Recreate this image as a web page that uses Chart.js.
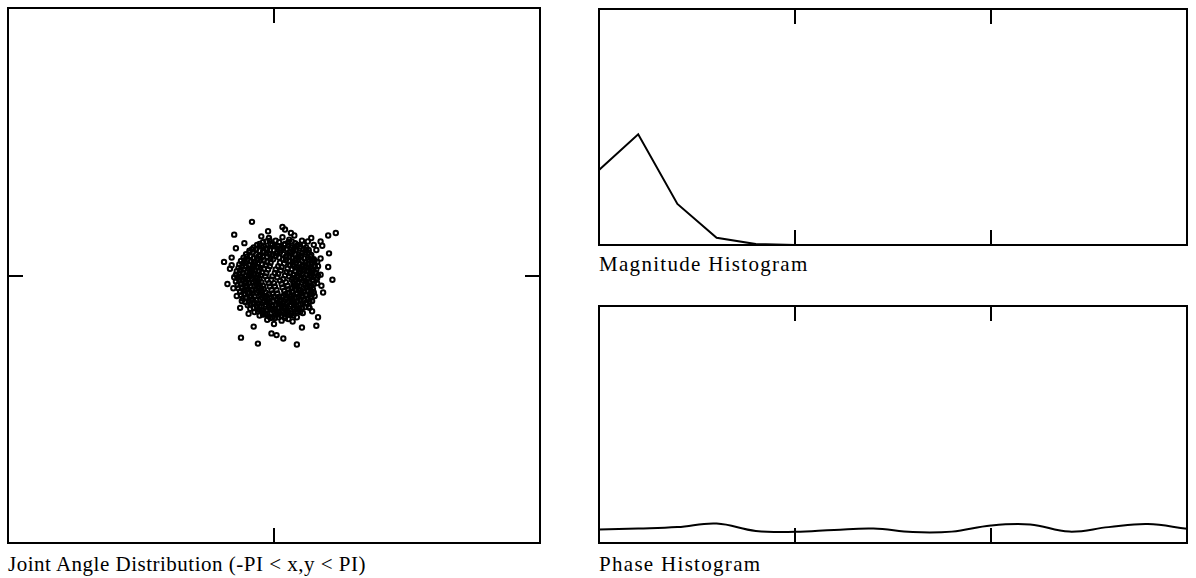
<!DOCTYPE html>
<html lang="en">
<head>
  <meta charset="UTF-8" />
  <title>Joint Angle Distribution</title>
  <script src="https://cdn.jsdelivr.net/npm/chart.js"></script>
  <style>
    body {
      margin: 0;
      background: #fff;
      width: 1196px;
      height: 578px;
      position: relative;
      overflow: hidden;
    }

    .panel {
      position: absolute;
    }

    .caption {
      position: absolute;
      font-family: 'Liberation Serif', 'Times New Roman', serif;
      font-size: 21px;
      line-height: 20px;
      letter-spacing: 1.3px;
      color: #000;
      white-space: nowrap;
    }
  </style>
</head>
<body>
  <div class="panel" style="left:6px; top:6px; width:536px; height:539px;">
    <canvas id="jointChart"></canvas>
  </div>
  <div class="caption" style="left:8px; top:554px; letter-spacing:0.5px;">Joint Angle Distribution (-PI &lt; x,y &lt; PI)</div>

  <div class="panel" style="left:597px; top:7px; width:592px; height:240px;">
    <canvas id="magnitudeChart"></canvas>
  </div>
  <div class="caption" style="left:599px; top:254px;">Magnitude Histogram</div>

  <div class="panel" style="left:597px; top:304px; width:592px; height:241px;">
    <canvas id="phaseChart"></canvas>
  </div>
  <div class="caption" style="left:599px; top:554px;">Phase Histogram</div>

  <script>
    // joint angle samples (x, y) in radians
    const jointAngles = [
      [-0.06,0.44],[0.02,0.41],[0.10,0.45],[0.18,0.42],[0.24,0.47],
      [-0.17,0.37],[-0.09,0.40],[-0.02,0.36],[0.06,0.39],[0.13,0.37],[0.21,0.40],[0.28,0.36],[0.33,0.41],
      [-0.24,0.33],[-0.15,0.35],[-0.08,0.31],[0.01,0.34],[0.08,0.32],[0.17,0.35],[0.23,0.31],[0.31,0.34],[0.38,0.33],
      [-0.29,0.29],[-0.21,0.31],[-0.12,0.27],[-0.05,0.30],[0.04,0.28],[0.11,0.32],[0.19,0.28],[0.26,0.30],[0.34,0.27],[0.41,0.30],
      [-0.33,0.25],[-0.25,0.27],[-0.18,0.23],[-0.09,0.26],[-0.02,0.24],[0.07,0.27],[0.15,0.23],[0.21,0.26],[0.29,0.24],[0.37,0.27],[0.44,0.24],
      [-0.36,0.21],[-0.28,0.23],[-0.19,0.19],[-0.13,0.22],[-0.04,0.20],[0.02,0.23],[0.11,0.19],[0.18,0.22],[0.26,0.20],[0.32,0.23],[0.40,0.21],[0.47,0.19],
      [-0.39,0.17],[-0.31,0.19],[-0.24,0.15],[-0.16,0.18],[-0.08,0.16],[-0.01,0.19],[0.07,0.15],[0.14,0.18],[0.22,0.16],[0.29,0.19],[0.37,0.15],[0.45,0.18],[0.51,0.16],
      [-0.41,0.13],[-0.34,0.15],[-0.25,0.11],[-0.19,0.14],[-0.10,0.12],[-0.04,0.15],[0.05,0.11],[0.12,0.14],[0.19,0.12],[0.26,0.15],[0.33,0.11],[0.41,0.14],[0.48,0.12],
      [-0.42,0.09],[-0.33,0.11],[-0.27,0.07],[-0.19,0.10],[-0.12,0.08],[-0.05,0.11],[0.02,0.07],[0.09,0.10],[0.16,0.08],[0.24,0.11],[0.30,0.07],[0.38,0.10],[0.44,0.08],[0.52,0.11],
      [-0.44,0.05],[-0.36,0.07],[-0.29,0.03],[-0.22,0.06],[-0.14,0.04],[-0.07,0.07],[0.01,0.03],[0.08,0.06],[0.15,0.04],[0.21,0.07],[0.29,0.03],[0.36,0.06],[0.43,0.04],[0.50,0.07],
      [-0.45,0.01],[-0.37,0.03],[-0.30,-0.01],[-0.23,0.02],[-0.16,0.00],[-0.09,0.03],[-0.02,-0.01],[0.05,0.02],[0.13,0.00],[0.19,0.03],[0.27,-0.01],[0.34,0.02],[0.42,0.00],[0.49,0.03],[0.55,0.01],
      [-0.43,-0.03],[-0.38,-0.01],[-0.31,-0.05],[-0.24,-0.02],[-0.17,-0.04],[-0.10,-0.01],[-0.03,-0.05],[0.04,-0.02],[0.11,-0.04],[0.18,-0.01],[0.25,-0.05],[0.32,-0.02],[0.40,-0.04],[0.47,-0.01],
      [-0.45,-0.07],[-0.37,-0.05],[-0.30,-0.09],[-0.22,-0.06],[-0.15,-0.08],[-0.08,-0.05],[0.00,-0.09],[0.07,-0.06],[0.14,-0.08],[0.21,-0.05],[0.28,-0.09],[0.35,-0.06],[0.42,-0.08],[0.50,-0.05],
      [-0.43,-0.11],[-0.35,-0.09],[-0.28,-0.13],[-0.21,-0.10],[-0.13,-0.12],[-0.06,-0.09],[0.01,-0.13],[0.09,-0.10],[0.16,-0.12],[0.23,-0.09],[0.30,-0.13],[0.37,-0.10],[0.44,-0.12],[0.51,-0.09],
      [-0.42,-0.15],[-0.34,-0.13],[-0.26,-0.17],[-0.19,-0.14],[-0.12,-0.16],[-0.05,-0.13],[0.03,-0.17],[0.10,-0.14],[0.17,-0.16],[0.24,-0.13],[0.31,-0.17],[0.38,-0.14],[0.46,-0.16],
      [-0.40,-0.19],[-0.33,-0.17],[-0.26,-0.21],[-0.18,-0.18],[-0.10,-0.20],[-0.03,-0.17],[0.04,-0.21],[0.12,-0.18],[0.18,-0.20],[0.26,-0.17],[0.33,-0.21],[0.40,-0.18],[0.47,-0.20],
      [-0.39,-0.23],[-0.31,-0.21],[-0.23,-0.25],[-0.16,-0.22],[-0.09,-0.24],[-0.02,-0.21],[0.06,-0.25],[0.13,-0.22],[0.20,-0.24],[0.27,-0.21],[0.34,-0.25],[0.42,-0.22],[0.48,-0.24],
      [-0.37,-0.27],[-0.29,-0.25],[-0.21,-0.29],[-0.14,-0.26],[-0.07,-0.28],[0.00,-0.25],[0.07,-0.29],[0.15,-0.26],[0.22,-0.28],[0.29,-0.25],[0.36,-0.29],[0.43,-0.26],
      [-0.34,-0.31],[-0.27,-0.29],[-0.20,-0.33],[-0.12,-0.30],[-0.05,-0.32],[0.03,-0.29],[0.10,-0.33],[0.17,-0.30],[0.24,-0.32],[0.31,-0.29],[0.38,-0.33],[0.45,-0.30],
      [-0.31,-0.35],[-0.24,-0.33],[-0.17,-0.37],[-0.10,-0.34],[-0.02,-0.36],[0.05,-0.33],[0.12,-0.37],[0.20,-0.34],[0.27,-0.36],[0.34,-0.33],[0.41,-0.37],
      [-0.28,-0.39],[-0.20,-0.37],[-0.13,-0.41],[-0.06,-0.38],[0.02,-0.40],[0.09,-0.37],[0.16,-0.41],[0.23,-0.38],[0.30,-0.40],[0.37,-0.37],
      [-0.23,-0.43],[-0.15,-0.41],[-0.08,-0.45],[0.00,-0.42],[0.07,-0.44],[0.14,-0.41],[0.21,-0.45],[0.28,-0.42],[0.34,-0.44],
      [-0.17,-0.47],[-0.10,-0.45],[-0.02,-0.49],[0.05,-0.46],[0.13,-0.48],[0.20,-0.45],[0.27,-0.49],
      [-0.08,-0.52],[0.01,-0.50],[0.09,-0.53],[0.17,-0.51],
      // second pass, densest away from the very centre
      [-0.13,0.39],[-0.05,0.41],[0.17,0.39],[0.25,0.38],
      [-0.20,0.36],[-0.12,0.34],[-0.04,0.37],[0.04,0.35],[0.12,0.36],[0.20,0.33],[0.27,0.35],[0.35,0.36],
      [-0.26,0.31],[-0.17,0.29],[-0.09,0.32],[0.00,0.30],[0.08,0.30],[0.15,0.31],[0.23,0.29],[0.30,0.32],[0.38,0.30],
      [-0.29,0.27],[-0.21,0.25],[-0.13,0.28],[-0.05,0.25],[0.03,0.26],[0.11,0.25],[0.18,0.27],[0.25,0.25],[0.33,0.26],[0.41,0.27],
      [-0.32,0.22],[-0.24,0.20],[-0.16,0.24],[-0.08,0.22],[0.06,0.21],[0.14,0.22],[0.22,0.20],[0.29,0.22],[0.36,0.20],[0.43,0.22],
      [-0.35,0.18],[-0.27,0.17],[-0.20,0.20],[-0.12,0.18],[0.18,0.17],[0.25,0.18],[0.33,0.17],[0.41,0.19],[0.48,0.17],
      [-0.37,0.14],[-0.30,0.12],[-0.22,0.16],[-0.14,0.13],[0.22,0.13],[0.30,0.14],[0.37,0.12],[0.44,0.15],
      [-0.38,0.10],[-0.30,0.08],[-0.23,0.12],[-0.16,0.09],[0.27,0.09],[0.34,0.11],[0.41,0.09],[0.48,0.10],
      [-0.40,0.06],[-0.32,0.04],[-0.25,0.08],[-0.18,0.05],[0.25,0.05],[0.32,0.08],[0.39,0.05],[0.46,0.06],
      [-0.41,0.02],[-0.33,0.00],[-0.26,0.04],[-0.19,0.01],[0.23,0.01],[0.31,0.04],[0.38,0.01],[0.45,0.02],[0.52,0.00],
      [-0.40,-0.02],[-0.34,-0.04],[-0.27,0.00],[-0.20,-0.03],[0.22,-0.03],[0.29,0.00],[0.36,-0.03],[0.44,-0.02],[0.51,-0.03],
      [-0.41,-0.06],[-0.33,-0.08],[-0.26,-0.04],[-0.19,-0.07],[0.24,-0.07],[0.31,-0.04],[0.38,-0.07],[0.46,-0.06],
      [-0.39,-0.10],[-0.32,-0.12],[-0.24,-0.08],[-0.17,-0.11],[0.26,-0.11],[0.33,-0.08],[0.40,-0.11],[0.47,-0.10],
      [-0.38,-0.14],[-0.30,-0.16],[-0.23,-0.12],[-0.15,-0.15],[0.21,-0.15],[0.27,-0.12],[0.35,-0.15],[0.42,-0.14],
      [-0.36,-0.18],[-0.29,-0.20],[-0.22,-0.16],[-0.14,-0.19],[0.22,-0.19],[0.29,-0.16],[0.36,-0.19],[0.44,-0.18],
      [-0.35,-0.22],[-0.27,-0.24],[-0.20,-0.20],[-0.13,-0.23],[-0.06,-0.22],[0.16,-0.21],[0.23,-0.23],[0.31,-0.20],[0.38,-0.23],[0.45,-0.22],
      [-0.33,-0.26],[-0.25,-0.28],[-0.18,-0.24],[-0.10,-0.27],[-0.03,-0.26],[0.04,-0.27],[0.11,-0.24],[0.19,-0.27],[0.26,-0.26],[0.33,-0.24],[0.40,-0.27],
      [-0.30,-0.30],[-0.23,-0.32],[-0.16,-0.28],[-0.08,-0.31],[-0.01,-0.30],[0.07,-0.31],[0.14,-0.28],[0.21,-0.31],[0.28,-0.30],[0.35,-0.28],[0.42,-0.31],
      [-0.28,-0.34],[-0.20,-0.36],[-0.13,-0.32],[-0.06,-0.35],[0.02,-0.34],[0.09,-0.35],[0.16,-0.32],[0.24,-0.35],[0.31,-0.34],[0.38,-0.32],
      [-0.24,-0.38],[-0.17,-0.40],[-0.10,-0.36],[-0.02,-0.39],[0.05,-0.38],[0.12,-0.39],[0.19,-0.36],[0.27,-0.39],[0.33,-0.38],
      [-0.19,-0.42],[-0.12,-0.44],[-0.04,-0.40],[0.03,-0.43],[0.10,-0.42],[0.17,-0.43],[0.24,-0.40],[0.31,-0.43],
      [-0.13,-0.46],[-0.06,-0.48],[0.01,-0.44],[0.09,-0.47],[0.16,-0.46],[0.23,-0.47],
      [-0.04,-0.50],[0.05,-0.49],[0.13,-0.50],
      // ragged rim and stragglers
      [-0.50,0.12],[-0.48,-0.15],[0.55,0.20],[0.56,-0.12],[0.40,0.40],[-0.35,0.38],[-0.38,-0.30],[0.42,-0.38],
      [0.20,0.50],[-0.15,0.46],[0.00,-0.57],[0.22,-0.54],[0.47,0.36],[0.50,0.30],[0.44,0.44],[-0.47,-0.02],
      [-0.26,0.63],[-0.07,0.52],[0.10,0.57],[0.13,0.54],[-0.47,0.48],[0.64,0.47],[0.73,0.50],[-0.45,0.32],
      [-0.59,0.16],[0.65,0.26],[0.64,0.10],[0.69,-0.05],[-0.44,-0.24],[0.52,-0.49],[0.50,-0.59],[0.33,-0.61],
      [-0.24,-0.60],[-0.39,-0.73],[-0.19,-0.80],[-0.03,-0.68],[0.03,-0.70],[0.11,-0.74],[0.27,-0.81],[-0.50,0.21],
      [-0.52,0.08],[0.57,0.35],[0.55,0.40],[-0.30,-0.45],[0.45,-0.42],[-0.40,-0.38],[0.58,-0.20],[-0.55,-0.10]
    ];

    // histogram bins 0..15
    const histBins = [0, 1, 2, 3, 4, 5, 6, 7, 8, 9, 10, 11, 12, 13, 14, 15];
    const magnitudeCounts = [31.8, 46.9, 17.4, 3.1, 0.4, 0, 0, 0, 0, 0, 0, 0, 0, 0, 0, 0];
    const phaseCounts = [5.7, 6.1, 6.7, 8.2, 5.1, 4.7, 5.5, 6.1, 4.6, 4.8, 7.4, 7.8, 4.8, 6.7, 8.0, 6.0];

    const histTicks = [5, 10];
    const angleTicks = [0];

    // box frame with short inward tick marks
    const frameTicks = {
      id: 'frameTicks',
      afterDatasetsDraw(chart, args, opts) {
        const { ctx, chartArea: a, scales } = chart;
        const len = opts.len || 15;
        ctx.save();
        ctx.strokeStyle = '#000';
        ctx.lineWidth = 2;
        ctx.strokeRect(a.left, a.top, a.right - a.left, a.bottom - a.top);
        ctx.beginPath();
        (opts.xTicks || []).forEach(v => {
          const px = Math.round(scales.x.getPixelForValue(v));
          ctx.moveTo(px, a.top);
          ctx.lineTo(px, a.top + len);
          ctx.moveTo(px, a.bottom);
          ctx.lineTo(px, a.bottom - len);
        });
        (opts.yTicks || []).forEach(v => {
          const py = Math.round(scales.y.getPixelForValue(v));
          ctx.moveTo(a.left, py);
          ctx.lineTo(a.left + len, py);
          ctx.moveTo(a.right, py);
          ctx.lineTo(a.right - len, py);
        });
        ctx.stroke();
        ctx.restore();
      }
    };

    const baseOptions = {
      responsive: true,
      maintainAspectRatio: false,
      animation: false,
      events: [],
      layout: { padding: 2, autoPadding: false },
      plugins: {
        legend: { display: false },
        tooltip: { enabled: false }
      }
    };

    new Chart(document.getElementById('jointChart'), {
      type: 'scatter',
      data: {
        datasets: [{
          data: jointAngles.map(p => ({ x: p[0], y: p[1] })),
          pointStyle: 'circle',
          pointRadius: 2.2,
          borderWidth: 2,
          borderColor: '#000',
          backgroundColor: 'rgba(255,255,255,0)'
        }]
      },
      options: {
        ...baseOptions,
        scales: {
          x: { type: 'linear', min: -Math.PI, max: Math.PI, display: false },
          y: { type: 'linear', min: -Math.PI, max: Math.PI, display: false }
        },
        plugins: {
          ...baseOptions.plugins,
          frameTicks: { xTicks: angleTicks, yTicks: angleTicks, len: 15 }
        }
      },
      plugins: [frameTicks]
    });

    function histogram(id, counts, tension) {
      return new Chart(document.getElementById(id), {
        type: 'line',
        data: {
          labels: histBins,
          datasets: [{
            data: counts,
            borderColor: '#000',
            borderWidth: 2,
            pointRadius: 0,
            tension: tension,
            fill: false
          }]
        },
        options: {
          ...baseOptions,
          scales: {
            x: { display: false, offset: false },
            y: { min: 0, max: 100, display: false }
          },
          plugins: {
            ...baseOptions.plugins,
            frameTicks: { xTicks: histTicks, len: 15 }
          }
        },
        plugins: [frameTicks]
      });
    }

    histogram('magnitudeChart', magnitudeCounts, 0);
    histogram('phaseChart', phaseCounts, 0.4);
  </script>
</body>
</html>
